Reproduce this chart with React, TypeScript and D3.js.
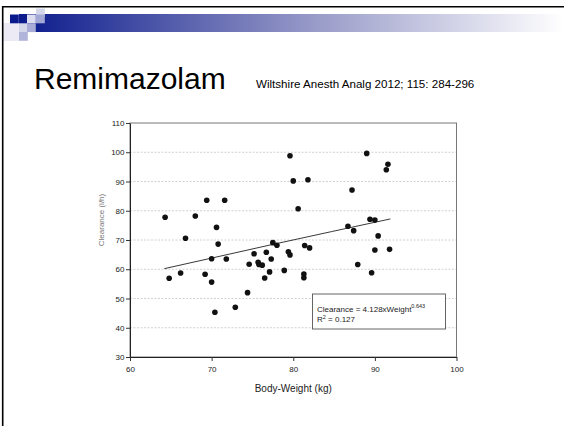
import React, { useEffect, useRef } from 'react';
import * as d3 from 'd3';

// body weight (kg) and clearance (l/h)
const weights = [
  64.3, 66.8, 68.0, 69.4, 70.6, 71.6, 79.6, 89.0, 91.6, 91.4, 80.0, 81.8, 87.2,
  80.6, 89.4, 90.0, 86.7, 87.4, 90.4, 64.8, 66.2, 69.2, 70.0, 70.0, 70.8, 71.8,
  70.4, 72.9, 74.4, 74.6, 75.2, 75.7, 75.8, 76.2, 76.5, 76.7, 77.1, 77.3, 77.5,
  78.0, 79.4, 79.6, 78.9, 81.4, 82.0, 81.3, 81.3, 90.0, 91.8, 87.9, 89.6,
];
const clearances = [
  77.8, 70.6, 78.2, 83.6, 74.3, 83.6, 98.8, 99.6, 95.9, 94.0, 90.2, 90.6, 87.1,
  80.7, 77.1, 76.8, 74.7, 73.2, 71.4, 56.9, 58.7, 58.3, 55.6, 63.6, 68.6, 63.5,
  45.3, 47.0, 52.0, 61.7, 65.3, 62.4, 61.6, 61.4, 57.0, 65.8, 59.1, 63.5, 69.1,
  68.2, 66.0, 64.9, 59.6, 68.1, 67.3, 58.4, 57.1, 66.6, 66.8, 61.6, 58.8,
];

// fitted power curve, read at three places
const fitWeights = [64.2, 77.5, 91.9];
const fitClearances = [60.2, 68.5, 77.2];

const xTicks = [60, 70, 80, 90, 100];
const yTicks = [30, 40, 50, 60, 70, 80, 90, 100, 110];

const W = 564;
const H = 426;

export default function App() {
  const svgRef = useRef<SVGSVGElement>(null);

  useEffect(() => {
    const svg = d3.select(svgRef.current);
    svg.selectAll('*').remove();
    const font = "'Liberation Sans', Arial, sans-serif";

    // slide decoration
    const defs = svg.append('defs');
    const grad = defs
      .append('linearGradient')
      .attr('id', 'bar')
      .attr('x1', '0%')
      .attr('x2', '100%');
    grad.append('stop').attr('offset', '0%').attr('stop-color', '#0a1a8c');
    grad.append('stop').attr('offset', '55%').attr('stop-color', '#9a9cc9');
    grad.append('stop').attr('offset', '100%').attr('stop-color', '#ffffff');

    svg.append('rect').attr('x', 19).attr('y', 14).attr('width', W - 19).attr('height', 18).attr('fill', 'url(#bar)');
    svg.append('rect').attr('x', 3).attr('y', 23).attr('width', 16).attr('height', 18).attr('fill', '#ecebf5');

    const squares: [number, number, string][] = [
      [36, 8.5, '#d4d6ea'],
      [10, 14.5, '#0a1a8c'],
      [27, 14.5, '#dcdef0'],
      [36, 14.5, '#a4a8d4'],
      [19, 23.3, '#d4d6ea'],
      [27, 23.3, '#a8acd6'],
      [19, 32, '#b0b3da'],
    ];
    svg
      .append('g')
      .selectAll('rect')
      .data(squares)
      .join('rect')
      .attr('x', (d) => d[0])
      .attr('y', (d) => d[1])
      .attr('width', 8.8)
      .attr('height', 8.8)
      .attr('fill', (d) => d[2]);

    // slide frame
    svg.append('path').attr('d', `M2.7,${H} V6.7 H${W}`).attr('fill', 'none').attr('stroke', '#000').attr('stroke-width', 1.6);

    svg.append('text').attr('x', 34).attr('y', 89).attr('font-family', font).attr('font-size', 30).attr('fill', '#000').text('Remimazolam');
    svg
      .append('text')
      .attr('x', 256)
      .attr('y', 88)
      .attr('font-family', font)
      .attr('font-size', 11.6)
      .attr('fill', '#000')
      .text('Wiltshire Anesth Analg 2012; 115: 284-296');

    // chart
    const x = d3.scaleLinear().domain([60, 100]).range([130, 456.5]);
    const y = d3.scaleLinear().domain([30, 110]).range([357, 123]);

    const g = svg.append('g').attr('font-family', font);

    g.selectAll('line.grid')
      .data(yTicks.filter((t) => t > 30 && t < 110))
      .join('line')
      .attr('class', 'grid')
      .attr('x1', x(60))
      .attr('x2', x(100))
      .attr('y1', (d) => y(d))
      .attr('y2', (d) => y(d))
      .attr('stroke', '#c4c4c4')
      .attr('stroke-width', 0.8)
      .attr('stroke-dasharray', '2,1.5');

    g.append('rect')
      .attr('x', x(60))
      .attr('y', y(110))
      .attr('width', x(100) - x(60))
      .attr('height', y(30) - y(110))
      .attr('fill', 'none')
      .attr('stroke', '#777')
      .attr('stroke-width', 1);

    const xAxis = g
      .append('g')
      .attr('transform', `translate(0,${y(30)})`)
      .call(d3.axisBottom(x).tickValues(xTicks).tickSize(4).tickSizeOuter(0));
    const yAxis = g
      .append('g')
      .attr('transform', `translate(${x(60)},0)`)
      .call(d3.axisLeft(y).tickValues(yTicks).tickSize(4).tickSizeOuter(0));
    [xAxis, yAxis].forEach((a) => {
      a.attr('font-family', font).attr('font-size', 8);
      a.select('.domain').attr('stroke', '#222');
      a.selectAll('line').attr('stroke', '#333');
      a.selectAll('text').attr('fill', '#222');
    });
    xAxis.selectAll('text').attr('dy', '1.05em');
    yAxis.selectAll('text').attr('x', -5.5);

    g.append('text')
      .attr('x', x(80))
      .attr('y', 392)
      .attr('text-anchor', 'middle')
      .attr('font-size', 10)
      .attr('fill', '#222')
      .text('Body-Weight (kg)');

    g.append('text')
      .attr('transform', `translate(104,220) rotate(-90)`)
      .attr('text-anchor', 'middle')
      .attr('font-size', 8)
      .attr('fill', '#777')
      .text('Clearance (l/h)');

    const line = d3
      .line<number>()
      .x((d) => x(fitWeights[d]))
      .y((d) => y(fitClearances[d]))
      .curve(d3.curveMonotoneX);
    g.append('path')
      .attr('d', line(fitWeights.map((_, i) => i)))
      .attr('fill', 'none')
      .attr('stroke', '#222')
      .attr('stroke-width', 0.9);

    g.append('g')
      .selectAll('circle')
      .data(weights.map((w, i) => [w, clearances[i]]))
      .join('circle')
      .attr('cx', (d) => x(d[0]))
      .attr('cy', (d) => y(d[1]))
      .attr('r', 2.8)
      .attr('fill', '#111');

    // equation box
    g.append('rect')
      .attr('x', 312.5)
      .attr('y', 294)
      .attr('width', 133)
      .attr('height', 35)
      .attr('fill', '#fff')
      .attr('stroke', '#555')
      .attr('stroke-width', 0.9);
    const eq = g.append('text').attr('x', 317).attr('y', 311.5).attr('font-size', 8).attr('fill', '#222');
    eq.append('tspan').text('Clearance = 4.128xWeight');
    eq.append('tspan').attr('font-size', 5.5).attr('dy', -3.5).text('0.643');
    const r2 = g.append('text').attr('x', 317).attr('y', 322).attr('font-size', 8).attr('fill', '#222');
    r2.append('tspan').text('R');
    r2.append('tspan').attr('font-size', 5.5).attr('dy', -3.5).text('2');
    r2.append('tspan').attr('dy', 3.5).text(' = 0.127');
  }, []);

  return (
    <svg
      ref={svgRef}
      width={W}
      height={H}
      style={{ position: 'absolute', left: 0, top: 0, background: '#fff' }}
    />
  );
}
